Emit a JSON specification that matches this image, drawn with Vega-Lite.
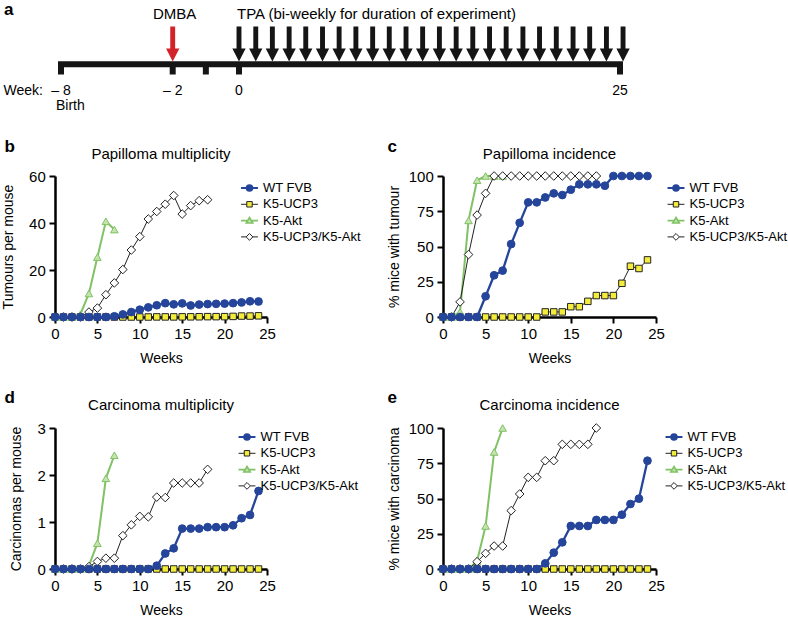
{
"$schema": "https://vega.github.io/schema/vega-lite/v6.json",
"background": "white",
"padding": {"left": 1, "top": 0, "right": 0, "bottom": 0},
"config": {
  "font": "Liberation Sans",
  "view": {"stroke": null},
  "axis": {"grid": false, "domainColor": "#000", "domainWidth": 2.5, "tickColor": "#000", "tickWidth": 2, "tickSize": 6, "labelFontSize": 15, "labelColor": "#000", "labelPadding": 3.7, "labelFlush": false, "labelOverlap": false, "titleFontSize": 14, "titleFontWeight": "normal", "titleColor": "#000", "titlePadding": 10},
  "legend": {"labelFontSize": 13, "labelColor": "#000"},
  "title": {"fontSize": 15, "fontWeight": "normal", "color": "#000"}
},
"datasets": {
  "ticks": [{"w": -8, "t": "– 8"}, {"w": -2, "t": "– 2"}, {"w": -1, "t": ""}, {"w": 0, "t": "0"}, {"w": 25, "t": "25"}],
  "tpa": [{"w": 0}, {"w": 1.1}, {"w": 2.19}, {"w": 3.29}, {"w": 4.38}, {"w": 5.48}, {"w": 6.57}, {"w": 7.67}, {"w": 8.77}, {"w": 9.86}, {"w": 10.96}, {"w": 12.05}, {"w": 13.15}, {"w": 14.25}, {"w": 15.34}, {"w": 16.44}, {"w": 17.53}, {"w": 18.63}, {"w": 19.72}, {"w": 20.82}, {"w": 21.92}, {"w": 23.01}, {"w": 24.11}, {"w": 25.2}],
  "dmba": [{"w": -2}],
  "b": [
    {"s":"W","w":0,"v":0},{"s":"W","w":1,"v":0},{"s":"W","w":2,"v":0},{"s":"W","w":3,"v":0},{"s":"W","w":4,"v":0},{"s":"W","w":5,"v":0},{"s":"W","w":6,"v":0},{"s":"W","w":7,"v":0.3},{"s":"W","w":8,"v":1.1},{"s":"W","w":9,"v":2.1},{"s":"W","w":10,"v":3.1},{"s":"W","w":11,"v":4.1},{"s":"W","w":12,"v":5.0},{"s":"W","w":13,"v":5.9},{"s":"W","w":14,"v":5.4},{"s":"W","w":15,"v":5.8},{"s":"W","w":16,"v":4.9},{"s":"W","w":17,"v":5.3},{"s":"W","w":18,"v":5.5},{"s":"W","w":19,"v":5.6},{"s":"W","w":20,"v":5.7},{"s":"W","w":21,"v":5.9},{"s":"W","w":22,"v":6.2},{"s":"W","w":23,"v":6.7},{"s":"W","w":24,"v":6.6},
    {"s":"U","w":0,"v":0},{"s":"U","w":1,"v":0},{"s":"U","w":2,"v":0},{"s":"U","w":3,"v":0},{"s":"U","w":4,"v":0},{"s":"U","w":5,"v":0},{"s":"U","w":6,"v":0},{"s":"U","w":7,"v":0},{"s":"U","w":8,"v":0},{"s":"U","w":9,"v":0},{"s":"U","w":10,"v":0},{"s":"U","w":11,"v":0},{"s":"U","w":12,"v":0.04},{"s":"U","w":13,"v":0.04},{"s":"U","w":14,"v":0.04},{"s":"U","w":15,"v":0.07},{"s":"U","w":16,"v":0.07},{"s":"U","w":17,"v":0.1},{"s":"U","w":18,"v":0.15},{"s":"U","w":19,"v":0.15},{"s":"U","w":20,"v":0.15},{"s":"U","w":21,"v":0.25},{"s":"U","w":22,"v":0.4},{"s":"U","w":23,"v":0.4},{"s":"U","w":24,"v":0.5},
    {"s":"A","w":0,"v":0},{"s":"A","w":1,"v":0},{"s":"A","w":2,"v":0},{"s":"A","w":3,"v":1.2},{"s":"A","w":4,"v":10},{"s":"A","w":5,"v":25.5},{"s":"A","w":6,"v":40.7},{"s":"A","w":7,"v":37.2},
    {"s":"D","w":0,"v":0},{"s":"D","w":1,"v":0},{"s":"D","w":2,"v":0},{"s":"D","w":3,"v":0},{"s":"D","w":4,"v":2.1},{"s":"D","w":5,"v":3.8},{"s":"D","w":6,"v":9.5},{"s":"D","w":7,"v":14.5},{"s":"D","w":8,"v":20.2},{"s":"D","w":9,"v":28.5},{"s":"D","w":10,"v":34.2},{"s":"D","w":11,"v":41.7},{"s":"D","w":12,"v":44.9},{"s":"D","w":13,"v":48},{"s":"D","w":14,"v":51.7},{"s":"D","w":15,"v":43.8},{"s":"D","w":16,"v":47.4},{"s":"D","w":17,"v":49.5},{"s":"D","w":18,"v":49.9}
  ],
  "c": [
    {"s":"W","w":0,"v":0},{"s":"W","w":1,"v":0},{"s":"W","w":2,"v":0},{"s":"W","w":3,"v":0},{"s":"W","w":4,"v":0},{"s":"W","w":5,"v":14.7},{"s":"W","w":6,"v":29.6},{"s":"W","w":7,"v":32.9},{"s":"W","w":8,"v":51.7},{"s":"W","w":9,"v":66.8},{"s":"W","w":10,"v":81.3},{"s":"W","w":11,"v":81.3},{"s":"W","w":12,"v":84.8},{"s":"W","w":13,"v":87.7},{"s":"W","w":14,"v":86.5},{"s":"W","w":15,"v":90.3},{"s":"W","w":16,"v":94.1},{"s":"W","w":17,"v":94.1},{"s":"W","w":18,"v":94.1},{"s":"W","w":19,"v":93.1},{"s":"W","w":20,"v":100},{"s":"W","w":21,"v":100},{"s":"W","w":22,"v":100},{"s":"W","w":23,"v":100},{"s":"W","w":24,"v":100},
    {"s":"U","w":0,"v":0},{"s":"U","w":1,"v":0},{"s":"U","w":2,"v":0},{"s":"U","w":3,"v":0},{"s":"U","w":4,"v":0},{"s":"U","w":5,"v":0},{"s":"U","w":6,"v":0},{"s":"U","w":7,"v":0},{"s":"U","w":8,"v":0},{"s":"U","w":9,"v":0},{"s":"U","w":10,"v":0},{"s":"U","w":11,"v":0},{"s":"U","w":12,"v":3.6},{"s":"U","w":13,"v":3.6},{"s":"U","w":14,"v":3.6},{"s":"U","w":15,"v":7.3},{"s":"U","w":16,"v":7.3},{"s":"U","w":17,"v":11.1},{"s":"U","w":18,"v":15.2},{"s":"U","w":19,"v":15.2},{"s":"U","w":20,"v":15.2},{"s":"U","w":21,"v":23.9},{"s":"U","w":22,"v":36},{"s":"U","w":23,"v":34.4},{"s":"U","w":24,"v":40.5},
    {"s":"A","w":0,"v":0},{"s":"A","w":1,"v":0},{"s":"A","w":2,"v":3.6},{"s":"A","w":3,"v":68.5},{"s":"A","w":4,"v":97},{"s":"A","w":5,"v":100},{"s":"A","w":6,"v":100},{"s":"A","w":7,"v":100},
    {"s":"D","w":0,"v":0},{"s":"D","w":1,"v":0},{"s":"D","w":2,"v":10.7},{"s":"D","w":3,"v":44.3},{"s":"D","w":4,"v":72.3},{"s":"D","w":5,"v":87.7},{"s":"D","w":6,"v":100},{"s":"D","w":7,"v":100},{"s":"D","w":8,"v":100},{"s":"D","w":9,"v":100},{"s":"D","w":10,"v":100},{"s":"D","w":11,"v":100},{"s":"D","w":12,"v":100},{"s":"D","w":13,"v":100},{"s":"D","w":14,"v":100},{"s":"D","w":15,"v":100},{"s":"D","w":16,"v":100},{"s":"D","w":17,"v":100},{"s":"D","w":18,"v":100}
  ],
  "d": [
    {"s":"W","w":0,"v":0},{"s":"W","w":1,"v":0},{"s":"W","w":2,"v":0},{"s":"W","w":3,"v":0},{"s":"W","w":4,"v":0},{"s":"W","w":5,"v":0},{"s":"W","w":6,"v":0},{"s":"W","w":7,"v":0},{"s":"W","w":8,"v":0},{"s":"W","w":9,"v":0},{"s":"W","w":10,"v":0},{"s":"W","w":11,"v":0},{"s":"W","w":12,"v":0.07},{"s":"W","w":13,"v":0.33},{"s":"W","w":14,"v":0.44},{"s":"W","w":15,"v":0.86},{"s":"W","w":16,"v":0.86},{"s":"W","w":17,"v":0.86},{"s":"W","w":18,"v":0.89},{"s":"W","w":19,"v":0.89},{"s":"W","w":20,"v":0.89},{"s":"W","w":21,"v":0.93},{"s":"W","w":22,"v":1.08},{"s":"W","w":23,"v":1.15},{"s":"W","w":24,"v":1.66},
    {"s":"U","w":0,"v":0},{"s":"U","w":1,"v":0},{"s":"U","w":2,"v":0},{"s":"U","w":3,"v":0},{"s":"U","w":4,"v":0},{"s":"U","w":5,"v":0},{"s":"U","w":6,"v":0},{"s":"U","w":7,"v":0},{"s":"U","w":8,"v":0},{"s":"U","w":9,"v":0},{"s":"U","w":10,"v":0},{"s":"U","w":11,"v":0},{"s":"U","w":12,"v":0},{"s":"U","w":13,"v":0},{"s":"U","w":14,"v":0},{"s":"U","w":15,"v":0},{"s":"U","w":16,"v":0},{"s":"U","w":17,"v":0},{"s":"U","w":18,"v":0},{"s":"U","w":19,"v":0},{"s":"U","w":20,"v":0},{"s":"U","w":21,"v":0},{"s":"U","w":22,"v":0},{"s":"U","w":23,"v":0},{"s":"U","w":24,"v":0},
    {"s":"A","w":0,"v":0},{"s":"A","w":1,"v":0},{"s":"A","w":2,"v":0},{"s":"A","w":3,"v":0},{"s":"A","w":4,"v":0.07},{"s":"A","w":5,"v":0.55},{"s":"A","w":6,"v":1.93},{"s":"A","w":7,"v":2.42},
    {"s":"D","w":0,"v":0},{"s":"D","w":1,"v":0},{"s":"D","w":2,"v":0},{"s":"D","w":3,"v":0},{"s":"D","w":4,"v":0.05},{"s":"D","w":5,"v":0.16},{"s":"D","w":6,"v":0.23},{"s":"D","w":7,"v":0.23},{"s":"D","w":8,"v":0.71},{"s":"D","w":9,"v":0.94},{"s":"D","w":10,"v":1.12},{"s":"D","w":11,"v":1.11},{"s":"D","w":12,"v":1.53},{"s":"D","w":13,"v":1.52},{"s":"D","w":14,"v":1.83},{"s":"D","w":15,"v":1.83},{"s":"D","w":16,"v":1.83},{"s":"D","w":17,"v":1.83},{"s":"D","w":18,"v":2.12}
  ],
  "e": [
    {"s":"W","w":0,"v":0},{"s":"W","w":1,"v":0},{"s":"W","w":2,"v":0},{"s":"W","w":3,"v":0},{"s":"W","w":4,"v":0},{"s":"W","w":5,"v":0},{"s":"W","w":6,"v":0},{"s":"W","w":7,"v":0},{"s":"W","w":8,"v":0},{"s":"W","w":9,"v":0},{"s":"W","w":10,"v":0},{"s":"W","w":11,"v":0},{"s":"W","w":12,"v":4},{"s":"W","w":13,"v":11.6},{"s":"W","w":14,"v":18.9},{"s":"W","w":15,"v":30.5},{"s":"W","w":16,"v":30.5},{"s":"W","w":17,"v":30.5},{"s":"W","w":18,"v":34.8},{"s":"W","w":19,"v":34.8},{"s":"W","w":20,"v":34.8},{"s":"W","w":21,"v":38.5},{"s":"W","w":22,"v":46.1},{"s":"W","w":23,"v":49.9},{"s":"W","w":24,"v":76.8},
    {"s":"U","w":0,"v":0},{"s":"U","w":1,"v":0},{"s":"U","w":2,"v":0},{"s":"U","w":3,"v":0},{"s":"U","w":4,"v":0},{"s":"U","w":5,"v":0},{"s":"U","w":6,"v":0},{"s":"U","w":7,"v":0},{"s":"U","w":8,"v":0},{"s":"U","w":9,"v":0},{"s":"U","w":10,"v":0},{"s":"U","w":11,"v":0},{"s":"U","w":12,"v":0},{"s":"U","w":13,"v":0},{"s":"U","w":14,"v":0},{"s":"U","w":15,"v":0},{"s":"U","w":16,"v":0},{"s":"U","w":17,"v":0},{"s":"U","w":18,"v":0},{"s":"U","w":19,"v":0},{"s":"U","w":20,"v":0},{"s":"U","w":21,"v":0},{"s":"U","w":22,"v":0},{"s":"U","w":23,"v":0},{"s":"U","w":24,"v":0},
    {"s":"A","w":0,"v":0},{"s":"A","w":1,"v":0},{"s":"A","w":2,"v":0},{"s":"A","w":3,"v":0},{"s":"A","w":4,"v":5.7},{"s":"A","w":5,"v":30.5},{"s":"A","w":6,"v":83},{"s":"A","w":7,"v":100},
    {"s":"D","w":0,"v":0},{"s":"D","w":1,"v":0},{"s":"D","w":2,"v":0},{"s":"D","w":3,"v":0},{"s":"D","w":4,"v":5.2},{"s":"D","w":5,"v":11.1},{"s":"D","w":6,"v":16.3},{"s":"D","w":7,"v":16.3},{"s":"D","w":8,"v":41.4},{"s":"D","w":9,"v":53.2},{"s":"D","w":10,"v":65},{"s":"D","w":11,"v":65},{"s":"D","w":12,"v":76.8},{"s":"D","w":13,"v":76.8},{"s":"D","w":14,"v":88.4},{"s":"D","w":15,"v":88.4},{"s":"D","w":16,"v":88.4},{"s":"D","w":17,"v":88.4},{"s":"D","w":18,"v":100}
  ]
},
"columns": 2,
"spacing": {"row": 111, "column": 176},
"bounds": "flush",
"resolve": {"scale": {"stroke": "independent"}, "legend": {"stroke": "independent"}},
"concat": [
  {
    "width": 212, "height": 60,
    "encoding": {"x": {"field": "w", "type": "quantitative", "scale": {"domain": [-8, -2, 0, 25], "range": [6, 117.7, 184, 565], "nice": false, "zero": false}, "axis": null}},
    "layer": [
      {"data": {"name": "ticks"}, "mark": {"type": "rule", "strokeWidth": 6, "strokeCap": "square", "color": "#151515"},
       "encoding": {"x": {"aggregate": "min", "field": "w", "type": "quantitative"}, "x2": {"aggregate": "max", "field": "w"}, "y": {"datum": 59.2, "type": "quantitative", "scale": {"domain": [0, 60], "range": [0, 60], "nice": false, "zero": false}, "axis": null}}},
      {"data": {"name": "ticks"}, "mark": {"type": "rule", "strokeWidth": 6, "strokeCap": "butt", "color": "#151515"},
       "encoding": {"y": {"datum": 59.2, "type": "quantitative"}, "y2": {"datum": 69.5}}},
      {"data": {"name": "ticks"}, "mark": {"type": "text", "fontSize": 14, "align": "center", "baseline": "alphabetic", "color": "#000"},
       "encoding": {"y": {"datum": 89.5, "type": "quantitative"}, "text": {"field": "t"}}},
      {"data": {"name": "tpa"}, "mark": {"type": "point", "shape": "M-0.14,-1L0.14,-1L0.14,0.26L0.38,0.26L0,1L-0.38,0.26L-0.14,0.26Z", "size": 1225, "filled": true, "color": "#151515", "opacity": 1, "strokeWidth": 0},
       "encoding": {"y": {"datum": 39, "type": "quantitative"}}},
      {"data": {"name": "dmba"}, "mark": {"type": "point", "shape": "M-0.14,-1L0.14,-1L0.14,0.26L0.38,0.26L0,1L-0.38,0.26L-0.14,0.26Z", "size": 1225, "filled": true, "color": "#d3232a", "opacity": 1, "strokeWidth": 0},
       "encoding": {"y": {"datum": 39, "type": "quantitative"}}},
      {"data": {"values": [{"w": -2, "t": "DMBA"}]}, "mark": {"type": "text", "fontSize": 15, "align": "center", "baseline": "alphabetic", "dx": 2, "color": "#000"},
       "encoding": {"y": {"datum": 13.8, "type": "quantitative"}, "text": {"field": "t"}}},
      {"data": {"values": [{"w": 0, "t": "TPA (bi-weekly for duration of experiment)"}]}, "mark": {"type": "text", "fontSize": 15, "align": "left", "baseline": "alphabetic", "dx": -2, "color": "#000"},
       "encoding": {"y": {"datum": 13.8, "type": "quantitative"}, "text": {"field": "t"}}},
      {"data": {"values": [{"w": -8, "t": "Week:"}]}, "mark": {"type": "text", "fontSize": 14, "align": "right", "baseline": "alphabetic", "dx": -18, "color": "#000"},
       "encoding": {"y": {"datum": 89.5, "type": "quantitative"}, "text": {"field": "t"}}},
      {"data": {"values": [{"w": -8, "t": "Birth"}]}, "mark": {"type": "text", "fontSize": 14, "align": "left", "baseline": "alphabetic", "dx": -5, "color": "#000"},
       "encoding": {"y": {"datum": 104.5, "type": "quantitative"}, "text": {"field": "t"}}},
      {"data": {"values": [{"w": -8, "t": "a"}]}, "mark": {"type": "text", "fontSize": 17, "fontWeight": "bold", "align": "left", "baseline": "alphabetic", "dx": -57, "color": "#000"},
       "encoding": {"y": {"datum": 9.7, "type": "quantitative"}, "text": {"field": "t"}}}
    ]
  },
  {"width": 213, "height": 60, "data": {"values": [{"k": 0}]}, "mark": {"type": "point", "opacity": 0}},
  {
    "data": {"name": "b"}, "width": 212, "height": 141,
    "title": {"text": "Papilloma multiplicity", "frame": "group", "anchor": "middle", "baseline": "alphabetic", "offset": -36},
    "resolve": {"axis": {"x": "independent"}},
    "encoding": {
      "x": {"field": "w", "type": "quantitative", "scale": {"domain": [0, 25], "nice": false, "zero": false}, "axis": null},
      "y": {"field": "v", "type": "quantitative", "scale": {"domain": [0, 60], "nice": false, "zero": false}, "axis": {"title": "Tumours per mouse", "values": [0, 20, 40, 60], "titlePadding": 13}},
      "stroke": {"field": "s", "type": "nominal", "scale": {"domain": ["W", "U", "A", "D"], "range": ["#25459a", "#222222", "#80c265", "#222222"]},
        "legend": {"orient": "none", "legendX": 188, "legendY": 5.5, "title": null, "padding": 0, "symbolSize": 169, "labelOffset": 7, "rowPadding": 2.3, "labelFontSize": 13,
          "labelExpr": "datum.value==='W'?'WT FVB':datum.value==='U'?'K5-UCP3':datum.value==='A'?'K5-Akt':'K5-UCP3/K5-Akt'",
          "encode": {"symbols": {"update": {
            "shape": {"signal": "datum.value==='W'?'M-1.3,0H-0.45M0.45,0H1.3M0.45,0A0.45,0.45,0,1,1,-0.45,0A0.45,0.45,0,1,1,0.45,0Z':datum.value==='U'?'M-1.3,0H-0.42M0.42,0H1.3M-0.42,-0.42H0.42V0.42H-0.42Z':datum.value==='A'?'M-1.3,0H-0.28M0.28,0H1.3M0,-0.48L0.5,0.38H-0.5Z':'M-1.3,0H-0.52M0.52,0H1.3M0,-0.52L0.52,0L0,0.52L-0.52,0Z'"},
            "fill": {"signal": "datum.value==='W'?'#25459a':datum.value==='U'?'#f4ec3b':datum.value==='A'?'#c4e3ad':'#ffffff'"},
            "stroke": {"signal": "datum.value==='W'?'#25459a':datum.value==='A'?'#6fb552':'#222222'"},
            "strokeWidth": {"signal": "datum.value==='W'?1.8:datum.value==='A'?1.6:1"},
            "opacity": {"value": 1}}}}}}
    },
    "layer": [
      {"transform": [{"filter": {"field": "s", "equal": "U"}}], "mark": {"type": "line", "strokeWidth": 1},
       "encoding": {"x": {"field": "w", "type": "quantitative", "scale": {"domain": [0, 25], "nice": false, "zero": false}, "axis": {"orient": "bottom", "title": "Weeks", "values": [0, 5, 10, 15, 20, 25]}}}},
      {"transform": [{"filter": {"field": "s", "equal": "U"}}], "mark": {"type": "point", "shape": "square", "size": 42, "filled": true, "fill": "#f4ec3b", "opacity": 1, "strokeWidth": 1}},
      {"transform": [{"filter": {"field": "s", "equal": "A"}}], "mark": {"type": "line", "strokeWidth": 2}},
      {"transform": [{"filter": {"field": "s", "equal": "A"}}], "mark": {"type": "point", "shape": "triangle-up", "size": 58, "filled": true, "fill": "#c4e3ad", "opacity": 1, "strokeWidth": 1}},
      {"transform": [{"filter": {"field": "s", "equal": "D"}}], "mark": {"type": "line", "strokeWidth": 1}},
      {"transform": [{"filter": {"field": "s", "equal": "D"}}], "mark": {"type": "point", "shape": "diamond", "size": 74, "filled": true, "fill": "#ffffff", "opacity": 1, "strokeWidth": 1}},
      {"transform": [{"filter": {"field": "s", "equal": "W"}}], "mark": {"type": "line", "strokeWidth": 2.3}},
      {"transform": [{"filter": {"field": "s", "equal": "W"}}], "mark": {"type": "point", "shape": "circle", "size": 60, "filled": true, "fill": "#25459a", "opacity": 1, "strokeWidth": 1},
       "encoding": {"x": {"field": "w", "type": "quantitative", "scale": {"domain": [0, 25], "nice": false, "zero": false}, "axis": {"orient": "top", "title": "b", "domain": false, "ticks": false, "labels": false, "titleAngle": 0, "titleAlign": "left", "titleBaseline": "alphabetic", "titleX": -51, "titleY": -24.5, "titleFontSize": 17, "titleFontWeight": "bold"}}}}
    ]
  },
  {
    "data": {"name": "c"}, "width": 213, "height": 141,
    "title": {"text": "Papilloma incidence", "frame": "group", "anchor": "middle", "baseline": "alphabetic", "offset": -36},
    "resolve": {"axis": {"x": "independent"}},
    "encoding": {
      "x": {"field": "w", "type": "quantitative", "scale": {"domain": [0, 25], "nice": false, "zero": false}, "axis": null},
      "y": {"field": "v", "type": "quantitative", "scale": {"domain": [0, 100], "nice": false, "zero": false}, "axis": {"title": "% mice with tumour", "values": [0, 25, 50, 75, 100], "titlePadding": 7}},
      "stroke": {"field": "s", "type": "nominal", "scale": {"domain": ["W", "U", "A", "D"], "range": ["#25459a", "#222222", "#80c265", "#222222"]},
        "legend": {"orient": "none", "legendX": 226.5, "legendY": 5.5, "title": null, "padding": 0, "symbolSize": 169, "labelOffset": 7, "rowPadding": 2.3, "labelFontSize": 13,
          "labelExpr": "datum.value==='W'?'WT FVB':datum.value==='U'?'K5-UCP3':datum.value==='A'?'K5-Akt':'K5-UCP3/K5-Akt'",
          "encode": {"symbols": {"update": {
            "shape": {"signal": "datum.value==='W'?'M-1.3,0H-0.45M0.45,0H1.3M0.45,0A0.45,0.45,0,1,1,-0.45,0A0.45,0.45,0,1,1,0.45,0Z':datum.value==='U'?'M-1.3,0H-0.42M0.42,0H1.3M-0.42,-0.42H0.42V0.42H-0.42Z':datum.value==='A'?'M-1.3,0H-0.28M0.28,0H1.3M0,-0.48L0.5,0.38H-0.5Z':'M-1.3,0H-0.52M0.52,0H1.3M0,-0.52L0.52,0L0,0.52L-0.52,0Z'"},
            "fill": {"signal": "datum.value==='W'?'#25459a':datum.value==='U'?'#f4ec3b':datum.value==='A'?'#c4e3ad':'#ffffff'"},
            "stroke": {"signal": "datum.value==='W'?'#25459a':datum.value==='A'?'#6fb552':'#222222'"},
            "strokeWidth": {"signal": "datum.value==='W'?1.8:datum.value==='A'?1.6:1"},
            "opacity": {"value": 1}}}}}}
    },
    "layer": [
      {"transform": [{"filter": {"field": "s", "equal": "U"}}], "mark": {"type": "line", "strokeWidth": 1},
       "encoding": {"x": {"field": "w", "type": "quantitative", "scale": {"domain": [0, 25], "nice": false, "zero": false}, "axis": {"orient": "bottom", "title": "Weeks", "values": [0, 5, 10, 15, 20, 25]}}}},
      {"transform": [{"filter": {"field": "s", "equal": "U"}}], "mark": {"type": "point", "shape": "square", "size": 42, "filled": true, "fill": "#f4ec3b", "opacity": 1, "strokeWidth": 1}},
      {"transform": [{"filter": {"field": "s", "equal": "A"}}], "mark": {"type": "line", "strokeWidth": 2}},
      {"transform": [{"filter": {"field": "s", "equal": "A"}}], "mark": {"type": "point", "shape": "triangle-up", "size": 58, "filled": true, "fill": "#c4e3ad", "opacity": 1, "strokeWidth": 1}},
      {"transform": [{"filter": {"field": "s", "equal": "D"}}], "mark": {"type": "line", "strokeWidth": 1}},
      {"transform": [{"filter": {"field": "s", "equal": "D"}}], "mark": {"type": "point", "shape": "diamond", "size": 74, "filled": true, "fill": "#ffffff", "opacity": 1, "strokeWidth": 1}},
      {"transform": [{"filter": {"field": "s", "equal": "W"}}], "mark": {"type": "line", "strokeWidth": 2.3}},
      {"transform": [{"filter": {"field": "s", "equal": "W"}}], "mark": {"type": "point", "shape": "circle", "size": 60, "filled": true, "fill": "#25459a", "opacity": 1, "strokeWidth": 1},
       "encoding": {"x": {"field": "w", "type": "quantitative", "scale": {"domain": [0, 25], "nice": false, "zero": false}, "axis": {"orient": "top", "title": "c", "domain": false, "ticks": false, "labels": false, "titleAngle": 0, "titleAlign": "left", "titleBaseline": "alphabetic", "titleX": -56, "titleY": -24.5, "titleFontSize": 17, "titleFontWeight": "bold"}}}}
    ]
  },
  {
    "data": {"name": "d"}, "width": 212, "height": 141,
    "title": {"text": "Carcinoma multiplicity", "frame": "group", "anchor": "middle", "baseline": "alphabetic", "offset": -36},
    "resolve": {"axis": {"x": "independent"}},
    "encoding": {
      "x": {"field": "w", "type": "quantitative", "scale": {"domain": [0, 25], "nice": false, "zero": false}, "axis": null},
      "y": {"field": "v", "type": "quantitative", "scale": {"domain": [0, 3], "nice": false, "zero": false}, "axis": {"title": "Carcinomas per mouse", "values": [0, 1, 2, 3], "titlePadding": 13.5}},
      "stroke": {"field": "s", "type": "nominal", "scale": {"domain": ["W", "U", "A", "D"], "range": ["#25459a", "#222222", "#80c265", "#222222"]},
        "legend": {"orient": "none", "legendX": 185.5, "legendY": 2.5, "title": null, "padding": 0, "symbolSize": 169, "labelOffset": 7, "rowPadding": 2.3, "labelFontSize": 13,
          "labelExpr": "datum.value==='W'?'WT FVB':datum.value==='U'?'K5-UCP3':datum.value==='A'?'K5-Akt':'K5-UCP3/K5-Akt'",
          "encode": {"symbols": {"update": {
            "shape": {"signal": "datum.value==='W'?'M-1.3,0H-0.45M0.45,0H1.3M0.45,0A0.45,0.45,0,1,1,-0.45,0A0.45,0.45,0,1,1,0.45,0Z':datum.value==='U'?'M-1.3,0H-0.42M0.42,0H1.3M-0.42,-0.42H0.42V0.42H-0.42Z':datum.value==='A'?'M-1.3,0H-0.28M0.28,0H1.3M0,-0.48L0.5,0.38H-0.5Z':'M-1.3,0H-0.52M0.52,0H1.3M0,-0.52L0.52,0L0,0.52L-0.52,0Z'"},
            "fill": {"signal": "datum.value==='W'?'#25459a':datum.value==='U'?'#f4ec3b':datum.value==='A'?'#c4e3ad':'#ffffff'"},
            "stroke": {"signal": "datum.value==='W'?'#25459a':datum.value==='A'?'#6fb552':'#222222'"},
            "strokeWidth": {"signal": "datum.value==='W'?1.8:datum.value==='A'?1.6:1"},
            "opacity": {"value": 1}}}}}}
    },
    "layer": [
      {"transform": [{"filter": {"field": "s", "equal": "U"}}], "mark": {"type": "line", "strokeWidth": 1},
       "encoding": {"x": {"field": "w", "type": "quantitative", "scale": {"domain": [0, 25], "nice": false, "zero": false}, "axis": {"orient": "bottom", "title": "Weeks", "values": [0, 5, 10, 15, 20, 25]}}}},
      {"transform": [{"filter": {"field": "s", "equal": "U"}}], "mark": {"type": "point", "shape": "square", "size": 42, "filled": true, "fill": "#f4ec3b", "opacity": 1, "strokeWidth": 1}},
      {"transform": [{"filter": {"field": "s", "equal": "A"}}], "mark": {"type": "line", "strokeWidth": 2}},
      {"transform": [{"filter": {"field": "s", "equal": "A"}}], "mark": {"type": "point", "shape": "triangle-up", "size": 58, "filled": true, "fill": "#c4e3ad", "opacity": 1, "strokeWidth": 1}},
      {"transform": [{"filter": {"field": "s", "equal": "D"}}], "mark": {"type": "line", "strokeWidth": 1}},
      {"transform": [{"filter": {"field": "s", "equal": "D"}}], "mark": {"type": "point", "shape": "diamond", "size": 74, "filled": true, "fill": "#ffffff", "opacity": 1, "strokeWidth": 1}},
      {"transform": [{"filter": {"field": "s", "equal": "W"}}], "mark": {"type": "line", "strokeWidth": 2.3}},
      {"transform": [{"filter": {"field": "s", "equal": "W"}}], "mark": {"type": "point", "shape": "circle", "size": 60, "filled": true, "fill": "#25459a", "opacity": 1, "strokeWidth": 1},
       "encoding": {"x": {"field": "w", "type": "quantitative", "scale": {"domain": [0, 25], "nice": false, "zero": false}, "axis": {"orient": "top", "title": "d", "domain": false, "ticks": false, "labels": false, "titleAngle": 0, "titleAlign": "left", "titleBaseline": "alphabetic", "titleX": -51, "titleY": -25.5, "titleFontSize": 17, "titleFontWeight": "bold"}}}}
    ]
  },
  {
    "data": {"name": "e"}, "width": 213, "height": 141,
    "title": {"text": "Carcinoma incidence", "frame": "group", "anchor": "middle", "baseline": "alphabetic", "offset": -36},
    "resolve": {"axis": {"x": "independent"}},
    "encoding": {
      "x": {"field": "w", "type": "quantitative", "scale": {"domain": [0, 25], "nice": false, "zero": false}, "axis": null},
      "y": {"field": "v", "type": "quantitative", "scale": {"domain": [0, 100], "nice": false, "zero": false}, "axis": {"title": "% mice with carcinoma", "values": [0, 25, 50, 75, 100], "titlePadding": 7}},
      "stroke": {"field": "s", "type": "nominal", "scale": {"domain": ["W", "U", "A", "D"], "range": ["#25459a", "#222222", "#80c265", "#222222"]},
        "legend": {"orient": "none", "legendX": 224.5, "legendY": 2.5, "title": null, "padding": 0, "symbolSize": 169, "labelOffset": 7, "rowPadding": 2.3, "labelFontSize": 13,
          "labelExpr": "datum.value==='W'?'WT FVB':datum.value==='U'?'K5-UCP3':datum.value==='A'?'K5-Akt':'K5-UCP3/K5-Akt'",
          "encode": {"symbols": {"update": {
            "shape": {"signal": "datum.value==='W'?'M-1.3,0H-0.45M0.45,0H1.3M0.45,0A0.45,0.45,0,1,1,-0.45,0A0.45,0.45,0,1,1,0.45,0Z':datum.value==='U'?'M-1.3,0H-0.42M0.42,0H1.3M-0.42,-0.42H0.42V0.42H-0.42Z':datum.value==='A'?'M-1.3,0H-0.28M0.28,0H1.3M0,-0.48L0.5,0.38H-0.5Z':'M-1.3,0H-0.52M0.52,0H1.3M0,-0.52L0.52,0L0,0.52L-0.52,0Z'"},
            "fill": {"signal": "datum.value==='W'?'#25459a':datum.value==='U'?'#f4ec3b':datum.value==='A'?'#c4e3ad':'#ffffff'"},
            "stroke": {"signal": "datum.value==='W'?'#25459a':datum.value==='A'?'#6fb552':'#222222'"},
            "strokeWidth": {"signal": "datum.value==='W'?1.8:datum.value==='A'?1.6:1"},
            "opacity": {"value": 1}}}}}}
    },
    "layer": [
      {"transform": [{"filter": {"field": "s", "equal": "U"}}], "mark": {"type": "line", "strokeWidth": 1},
       "encoding": {"x": {"field": "w", "type": "quantitative", "scale": {"domain": [0, 25], "nice": false, "zero": false}, "axis": {"orient": "bottom", "title": "Weeks", "values": [0, 5, 10, 15, 20, 25]}}}},
      {"transform": [{"filter": {"field": "s", "equal": "U"}}], "mark": {"type": "point", "shape": "square", "size": 42, "filled": true, "fill": "#f4ec3b", "opacity": 1, "strokeWidth": 1}},
      {"transform": [{"filter": {"field": "s", "equal": "A"}}], "mark": {"type": "line", "strokeWidth": 2}},
      {"transform": [{"filter": {"field": "s", "equal": "A"}}], "mark": {"type": "point", "shape": "triangle-up", "size": 58, "filled": true, "fill": "#c4e3ad", "opacity": 1, "strokeWidth": 1}},
      {"transform": [{"filter": {"field": "s", "equal": "D"}}], "mark": {"type": "line", "strokeWidth": 1}},
      {"transform": [{"filter": {"field": "s", "equal": "D"}}], "mark": {"type": "point", "shape": "diamond", "size": 74, "filled": true, "fill": "#ffffff", "opacity": 1, "strokeWidth": 1}},
      {"transform": [{"filter": {"field": "s", "equal": "W"}}], "mark": {"type": "line", "strokeWidth": 2.3}},
      {"transform": [{"filter": {"field": "s", "equal": "W"}}], "mark": {"type": "point", "shape": "circle", "size": 60, "filled": true, "fill": "#25459a", "opacity": 1, "strokeWidth": 1},
       "encoding": {"x": {"field": "w", "type": "quantitative", "scale": {"domain": [0, 25], "nice": false, "zero": false}, "axis": {"orient": "top", "title": "e", "domain": false, "ticks": false, "labels": false, "titleAngle": 0, "titleAlign": "left", "titleBaseline": "alphabetic", "titleX": -56, "titleY": -25.5, "titleFontSize": 17, "titleFontWeight": "bold"}}}}
    ]
  }
]
}
